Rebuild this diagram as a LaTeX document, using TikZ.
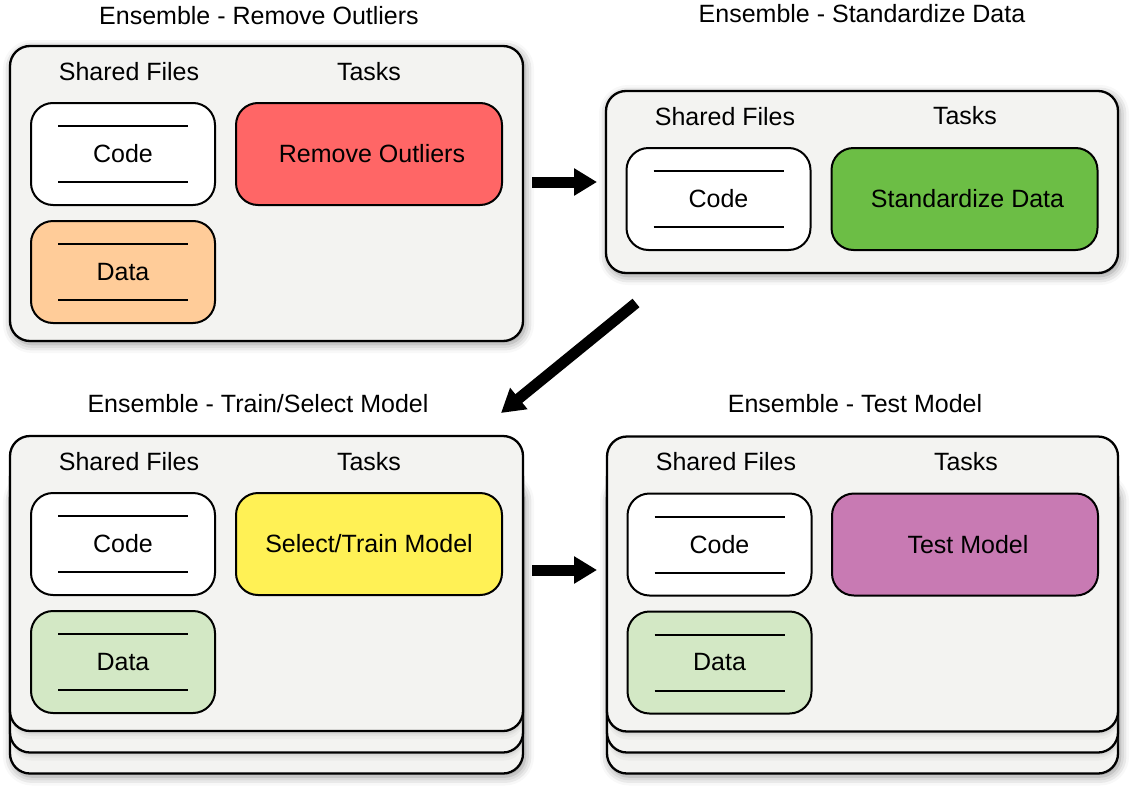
\documentclass[tikz,border=0pt]{standalone}
\usepackage{fontspec}
\setmainfont{Liberation Sans}
\usetikzlibrary{arrows.meta,shadows,shadows.blur}

\definecolor{panelgray}{HTML}{F3F3F1}
\definecolor{outlierred}{HTML}{FF6666}
\definecolor{dataorange}{HTML}{FFCC99}
\definecolor{stdgreen}{HTML}{6CBE45}
\definecolor{trainyellow}{HTML}{FFF155}
\definecolor{datagreen}{HTML}{D3E8C5}
\definecolor{testpurple}{HTML}{C87AB3}

\begin{document}
\begin{tikzpicture}
[
	x=1pt,y=-1pt,
	every node/.style={font=\fontsize{25}{30}\selectfont},
	plainpanel/.style={rectangle,draw,line width=2.3pt,rounded corners=20pt,fill=panelgray,minimum width=513pt,minimum height=295pt},
	panel/.style={plainpanel,
		blur shadow={shadow xshift=2pt,shadow yshift=-3pt,shadow blur radius=9pt,shadow opacity=45}},
	layerpanel/.style={plainpanel,
		drop shadow={shadow xshift=1pt,shadow yshift=-8pt,opacity=0.06},
		drop shadow={shadow xshift=1pt,shadow yshift=-5pt,opacity=0.08},
		drop shadow={shadow xshift=1pt,shadow yshift=-3pt,opacity=0.10}},
	filebox/.style={rectangle,draw,line width=2pt,rounded corners=22pt,minimum width=184pt,minimum height=102pt,
		path picture={\draw[line width=2pt] ([xshift=-65pt,yshift=28pt]path picture bounding box.center) -- ++(130pt,0pt)
			([xshift=-65pt,yshift=-28pt]path picture bounding box.center) -- ++(130pt,0pt);}},
	taskbox/.style={rectangle,draw,line width=2pt,rounded corners=22pt,minimum width=266pt,minimum height=102pt},
	bigarrow/.style={line width=11pt,-{Triangle[length=23pt,width=26pt]}}
]
\useasboundingbox (0,0) rectangle (1137,787);

% Remove outliers
\node (t1) at (259,16) {Ensemble - Remove Outliers};
\node[panel] (p1) at (266.5,193.5) {};
\node (sf1) at (129,72) {Shared Files};
\node (tk1) at (369,72) {Tasks};
\node[filebox,fill=white] (code1) at (123,154) {Code};
\node[filebox,fill=dataorange] (data1) at (123,272) {Data};
\node[taskbox,fill=outlierred] (task1) at (369,154) {\hspace{6pt}Remove Outliers};

% Standardize data
\node (t2) at (862,14) {Ensemble - Standardize Data};
\node[panel,minimum width=512pt,minimum height=182pt] (p2) at (862,182) {};
\node (sf2) at (725,117) {Shared Files};
\node (tk2) at (965,116) {Tasks};
\node[filebox,fill=white] (code2) at (718.5,199) {Code};
\node[taskbox,fill=stdgreen] (task2) at (964.5,199) {\hspace{6pt}Standardize Data};

% Train/select model
\node (t3) at (258,404) {Ensemble - Train/Select Model};
\node[panel] (p3c) at (266.5,626) {};
\node[layerpanel] (p3b) at (266.5,605) {};
\node[layerpanel] (p3) at (266.5,583.5) {};
\node (sf3) at (129,462) {Shared Files};
\node (tk3) at (369,462) {Tasks};
\node[filebox,fill=white] (code3) at (123,544) {Code};
\node[filebox,fill=datagreen] (data3) at (123,662) {Data};
\node[taskbox,fill=trainyellow] (task3) at (369,544) {Select/Train Model};

% Test model
\node (t4) at (855,404) {Ensemble - Test Model};
\node[panel,minimum width=511pt] (p4c) at (862.5,626) {};
\node[layerpanel,minimum width=511pt] (p4b) at (862.5,605) {};
\node[layerpanel,minimum width=511pt] (p4) at (862.5,584) {};
\node (sf4) at (726,462) {Shared Files};
\node (tk4) at (966,462) {Tasks};
\node[filebox,fill=white] (code4) at (719.5,544.5) {Code};
\node[filebox,fill=datagreen] (data4) at (719.5,662.5) {Data};
\node[taskbox,fill=testpurple] (task4) at (965,544.5) {\hspace{6pt}Test Model};

% arrows
\coordinate (a1s) at (532,182);
\coordinate (a1e) at (597,182);
\coordinate (a2s) at (636,303);
\coordinate (a2e) at (501,413);
\coordinate (a3s) at (532,570);
\coordinate (a3e) at (597,570);

\draw[bigarrow] (a1s) -- (a1e);
\draw[bigarrow] (a2s) -- (a2e);
\draw[bigarrow] (a3s) -- (a3e);

\end{tikzpicture}
\end{document}
